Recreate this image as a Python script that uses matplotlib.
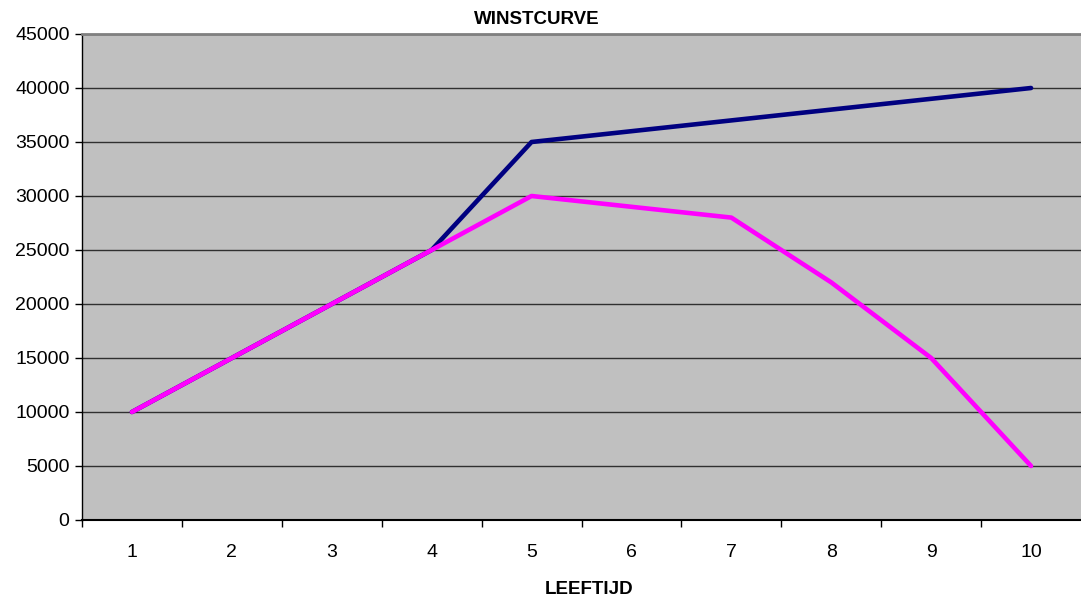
import matplotlib.pyplot as plt

# Winst per leeftijd
leeftijd = [1, 2, 3, 4, 5, 6, 7, 8, 9, 10]
omzet = [10000, 15000, 20000, 25000, 35000, 36000, 37000, 38000, 39000, 40000]
winst = [10000, 15000, 20000, 25000, 30000, 29000, 28000, 22000, 15000, 5000]
y_ticks = list(range(0, 45001, 5000))

plt.rcParams['font.family'] = ['Liberation Sans', 'DejaVu Sans']

W, H = 1081, 598
fig = plt.figure(figsize=(W / 100, H / 100), dpi=100)
ax = fig.add_axes([82 / W, 1 - 520 / H, (W - 82) / W, (520 - 34) / H])
ax.set_facecolor('#c0c0c0')

ax.plot(leeftijd, omzet, color='#000080', lw=3.3, solid_capstyle='round', zorder=3)
ax.plot(leeftijd, winst, color='#ff00ff', lw=3.3, solid_capstyle='round', zorder=3)

ax.set_xlim(0.5, 10.5)
ax.set_ylim(0, 45000)
ax.set_yticks(y_ticks)
ax.set_yticklabels([str(v) for v in y_ticks], fontsize=14)
ax.set_xticks([i + 0.5 for i in range(0, 10)])
ax.set_xticklabels([])
ax.set_xticks(leeftijd, minor=True)
ax.set_xticklabels([str(v) for v in leeftijd], minor=True, fontsize=14)
ax.tick_params(axis='x', which='minor', length=0, pad=17)
ax.tick_params(axis='x', which='major', length=5, width=1, direction='out')
ax.tick_params(axis='y', length=5, width=1, direction='out', pad=4)

ax.yaxis.grid(True, color='#303030', lw=1.0)
ax.set_axisbelow(True)

for side in ['left', 'bottom']:
    ax.spines[side].set_color('black')
ax.spines['left'].set_linewidth(1.0)
ax.spines['bottom'].set_linewidth(1.5)
ax.spines['top'].set_color('#808080')
ax.spines['top'].set_linewidth(2.0)
ax.spines['right'].set_visible(False)

fig.text(537 / W, 1 - 20 / H, 'WINSTCURVE', ha='center', va='center',
         fontsize=13.5, fontweight='bold')
fig.text(589 / W, 1 - 589 / H, 'LEEFTIJD', ha='center', va='center',
         fontsize=13.5, fontweight='bold')

fig.savefig('out.png', dpi=100)
